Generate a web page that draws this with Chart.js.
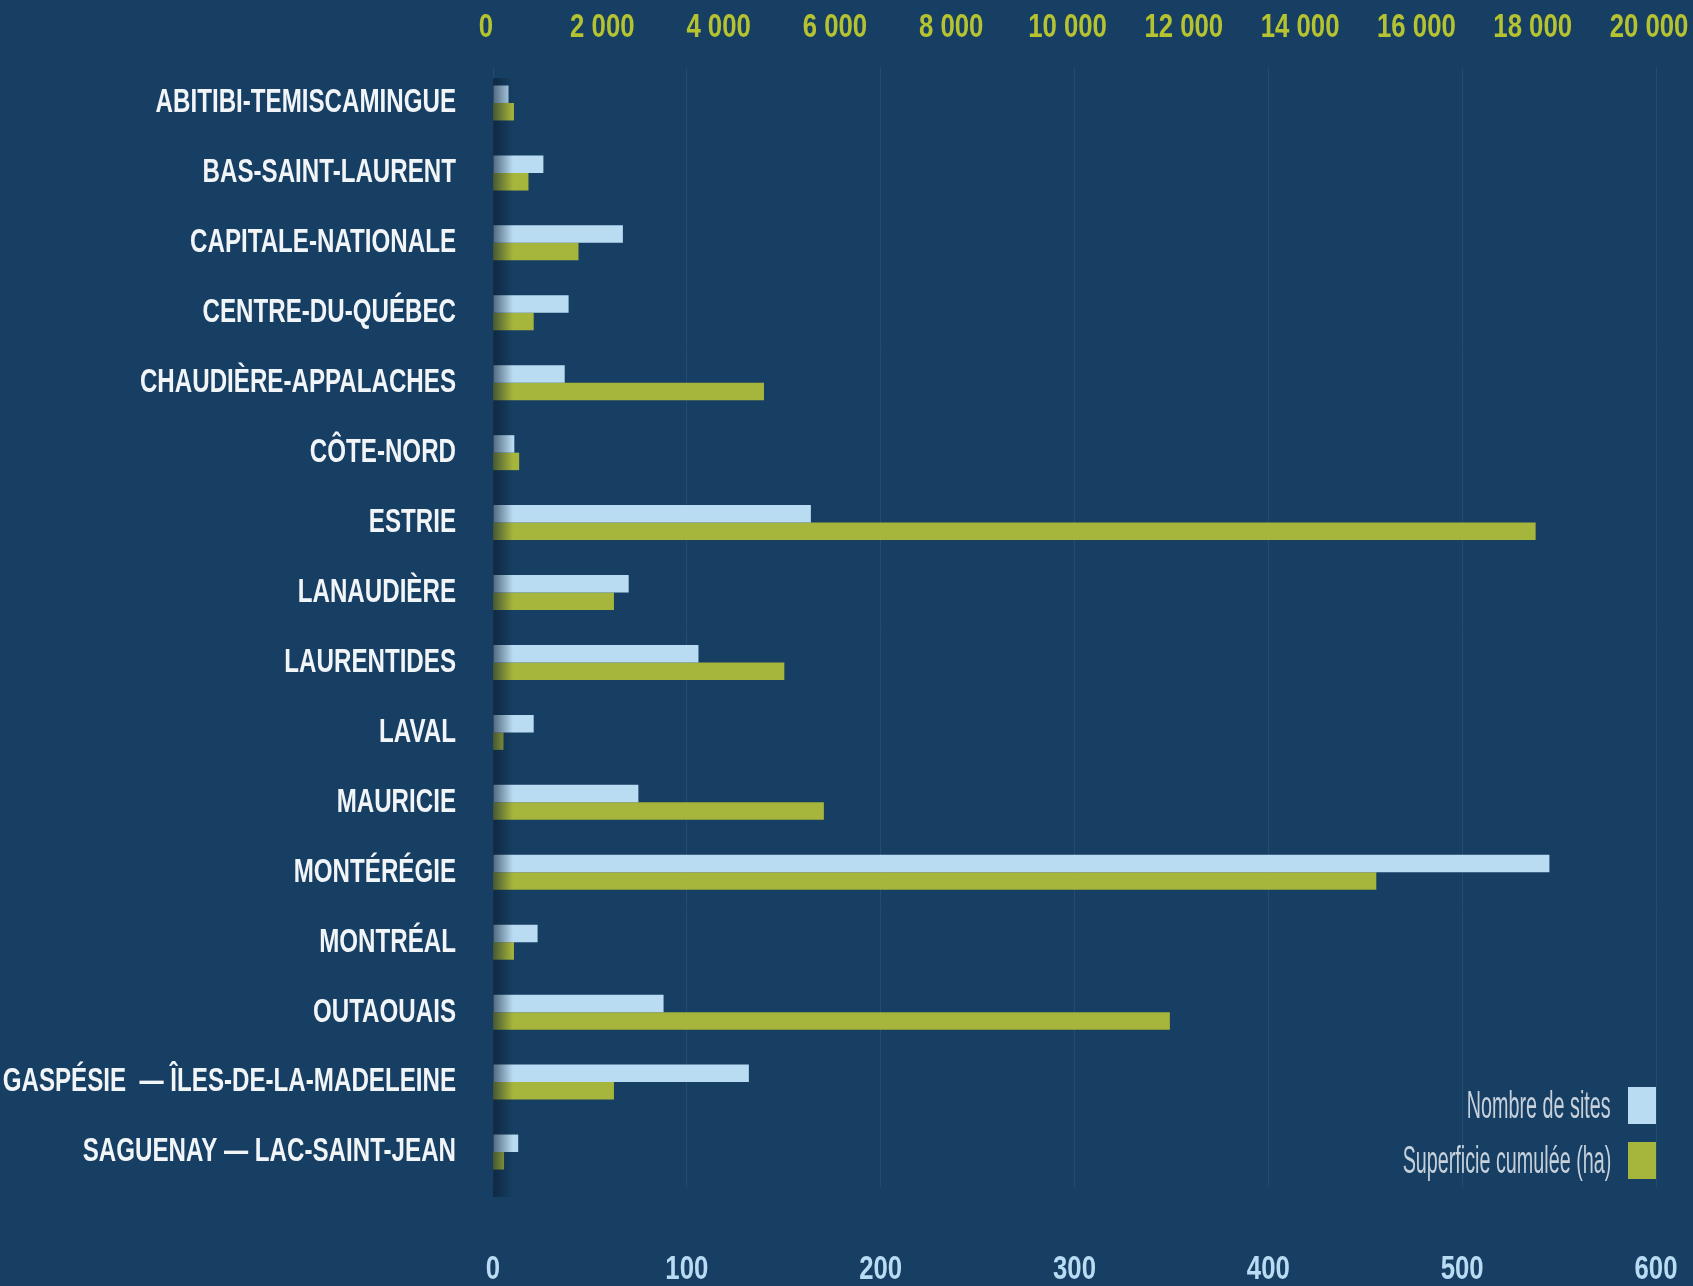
<!DOCTYPE html>
<html lang="fr">
<head>
<meta charset="utf-8">
<title>Sites et superficie cumulée par région</title>
<script src="https://cdn.jsdelivr.net/npm/chart.js@4.4.1/dist/chart.umd.min.js"></script>
<style>
    html, body { margin: 0; padding: 0; background: #173f63; }
    .chart-wrap { position: relative; width: 1693px; height: 1286px; }
    .legend {
        position: absolute; right: 37px; top: 1087px;
        font-family: "Liberation Sans", Arial, sans-serif;
        font-size: 38px; color: #c6d1dc;
    }
    .legend-row { display: flex; align-items: center; justify-content: flex-end; height: 37px; margin-bottom: 18px; }
    .legend-row span.txt { display: inline-block; transform: scaleX(0.52); transform-origin: right center; white-space: nowrap; }
    .legend-box { width: 28px; height: 37px; margin-left: 17px; flex: none; }
</style>
</head>
<body>
<div class="chart-wrap">
    <canvas id="regionChart"></canvas>
    <div class="legend" id="legend"></div>
</div>
<script>
// Regions
const regions = [
    'ABITIBI-TEMISCAMINGUE', 'BAS-SAINT-LAURENT', 'CAPITALE-NATIONALE', 'CENTRE-DU-QUÉBEC',
    'CHAUDIÈRE-APPALACHES', 'CÔTE-NORD', 'ESTRIE', 'LANAUDIÈRE', 'LAURENTIDES', 'LAVAL',
    'MAURICIE', 'MONTÉRÉGIE', 'MONTRÉAL', 'OUTAOUAIS',
    'GASPÉSIE  — ÎLES-DE-LA-MADELEINE', 'SAGUENAY — LAC-SAINT-JEAN'
];
// Nombre de sites (bottom axis)
const nombreSites = [8, 26, 67, 39, 37, 11, 164, 70, 106, 21, 75, 545, 23, 88, 132, 13];
// Superficie cumulée en ha (top axis)
const superficieHa = [360, 610, 1470, 700, 4660, 450, 17930, 2080, 5010, 180, 5690, 15190, 360, 11640, 2080, 190];

const sitesTicks = [0, 100, 200, 300, 400, 500, 600];
const haTicks = [0, 2000, 4000, 6000, 8000, 10000, 12000, 14000, 16000, 18000, 20000];

const seriesLabels = ['Nombre de sites', 'Superficie cumulée (ha)'];
const seriesColors = ['#badcf3', '#a6b53b'];

document.addEventListener("DOMContentLoaded", function () {
    Chart.defaults.font.family = '"Liberation Sans", Arial, sans-serif';

    function spaced(v) {
        return String(v).replace(/\B(?=(\d{3})+(?!\d))/g, ' ');
    }

    // the original uses a condensed face: squeeze each tick label around its anchor
    const squeezeX = { y: 0.71, x: 0.78, x2: 0.78 };
    const nudgeX = { y: 0, x: 0, x2: -7 };
    const condensedTicks = {
        id: 'condensedTicks',
        beforeDraw(chart) {
            Object.keys(squeezeX).forEach(id => {
                const scale = chart.scales[id];
                if (!scale || scale._squeezed) return;
                scale._squeezed = true;
                scale.drawLabels = function (area) {
                    const ctx = this.ctx;
                    this.getLabelItems(area).forEach(item => {
                        const o = item.options;
                        ctx.save();
                        ctx.translate(o.translation[0] + nudgeX[id], o.translation[1]);
                        ctx.scale(squeezeX[id], 1);
                        Chart.helpers.renderText(ctx, item.label, 0, item.textOffset, item.font,
                            Object.assign({}, o, { translation: undefined, rotation: 0 }));
                        ctx.restore();
                    });
                };
            });
        }
    };

    // dark shadow along the left edge of the bars
    const edgeShadow = {
        id: 'edgeShadow',
        afterDatasetsDraw(chart) {
            const { ctx, chartArea } = chart;
            const g = ctx.createLinearGradient(chartArea.left, 0, chartArea.left + 20, 0);
            g.addColorStop(0, 'rgba(8, 26, 46, 0.6)');
            g.addColorStop(1, 'rgba(8, 26, 46, 0)');
            ctx.save();
            ctx.fillStyle = g;
            ctx.fillRect(chartArea.left, chartArea.top + 10, 20, chartArea.bottom - chartArea.top);
            ctx.restore();
        }
    };

    const noSidePadding = s => { s.paddingLeft = 0; s.paddingRight = 0; };

    const chart = new Chart(document.getElementById('regionChart'), {
        type: 'bar',
        data: {
            labels: regions,
            datasets: [{
                label: seriesLabels[0],
                data: nombreSites,
                backgroundColor: seriesColors[0],
                xAxisID: 'x'
            }, {
                label: seriesLabels[1],
                data: superficieHa,
                backgroundColor: seriesColors[1],
                xAxisID: 'x2'
            }]
        },
        options: {
            indexAxis: 'y',
            responsive: true,
            maintainAspectRatio: false,
            animation: false,
            categoryPercentage: 0.5,
            barPercentage: 1.0,
            layout: { padding: { left: 0, right: 37, top: 0, bottom: 0 } },
            plugins: {
                legend: { display: false },
                tooltip: { enabled: false }
            },
            scales: {
                y: {
                    grid: { display: false, drawTicks: false },
                    border: { display: false },
                    afterFit: s => { s.width = 493; },
                    ticks: {
                        color: '#f2f5f8',
                        padding: 37,
                        font: { size: 34, weight: 'bold' }
                    }
                },
                x: {
                    position: 'bottom',
                    min: 0, max: 600,
                    afterBuildTicks: s => { s.ticks = sitesTicks.map(v => ({ value: v })); },
                    afterFit: s => { s.height = 99; noSidePadding(s); },
                    grid: { color: '#254b6f', lineWidth: 1, drawTicks: false },
                    border: { display: false },
                    ticks: {
                        color: '#b9dcf4',
                        padding: 63,
                        maxRotation: 0, minRotation: 0, autoSkip: false,
                        font: { size: 33, weight: 'bold' }
                    }
                },
                x2: {
                    position: 'top',
                    min: 0, max: 20000,
                    afterBuildTicks: s => { s.ticks = haTicks.map(v => ({ value: v })); },
                    afterFit: s => { s.height = 68; noSidePadding(s); },
                    grid: { display: false, drawTicks: false },
                    border: { display: false },
                    ticks: {
                        color: '#b6c331',
                        padding: 20,
                        maxRotation: 0, minRotation: 0, autoSkip: false,
                        font: { size: 33, weight: 'bold' },
                        callback: v => spaced(v)
                    }
                }
            }
        },
        plugins: [condensedTicks, edgeShadow]
    });
    chart.draw();

    // legend: text then colour box, right aligned
    const legend = document.getElementById('legend');
    chart.data.datasets.forEach(ds => {
        const row = document.createElement('div');
        row.className = 'legend-row';
        const txt = document.createElement('span');
        txt.className = 'txt';
        txt.textContent = ds.label;
        const box = document.createElement('span');
        box.className = 'legend-box';
        box.style.background = ds.backgroundColor;
        row.appendChild(txt);
        row.appendChild(box);
        legend.appendChild(row);
    });
});
</script>
</body>
</html>
